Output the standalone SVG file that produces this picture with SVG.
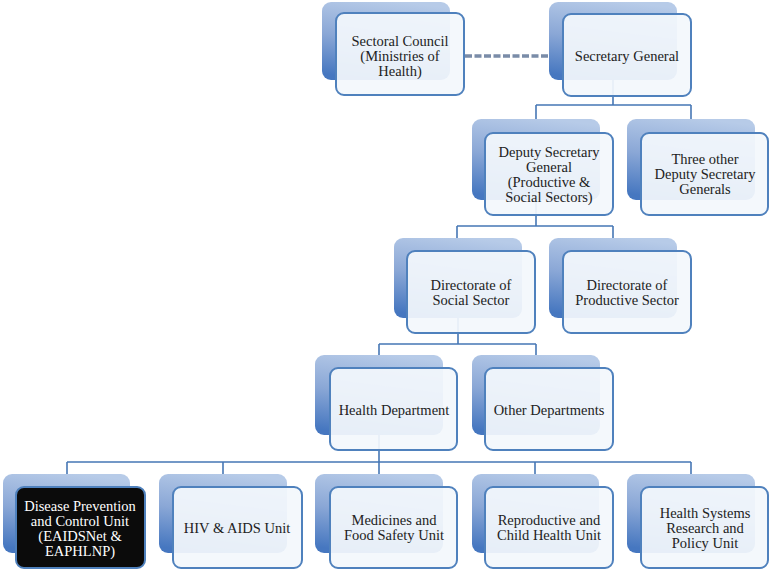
<svg xmlns="http://www.w3.org/2000/svg" width="770" height="572" viewBox="0 0 770 572">
<defs>
<linearGradient id="bg" x1="0.6" y1="0" x2="0.4" y2="1">
<stop offset="0" stop-color="#b7cbe8"/>
<stop offset="0.5" stop-color="#8aa7d6"/>
<stop offset="1" stop-color="#4677c0"/>
</linearGradient>
<style>
.back{fill:url(#bg);}
.front{fill:#f3f7fc;fill-opacity:0.93;stroke:#4f81bd;stroke-width:2;}
.dark{fill:#0b0b0b;fill-opacity:1;}
.t{font-family:"Liberation Serif","Times New Roman",serif;font-size:14.5px;fill:#222222;text-anchor:middle;}
.tw{fill:#ffffff;}
.c{fill:none;stroke:#4677b5;stroke-width:1.6;}
.d{fill:none;stroke:#7a8ca8;stroke-width:3.5;stroke-dasharray:7 2.5;}
</style>
</defs>
<rect width="770" height="572" fill="#ffffff"/>
<g id="connectors">
<path class="d" d="M465,56 H548"/>
<path class="c" d="M613,80 V105 M536,105 H691 M536,105 V119 M691,105 V119"/>
<path class="c" d="M536,200 V226 M457,226 H613 M457,226 V238 M613,226 V238"/>
<path class="c" d="M458,318 V344 M379,344 H536 M379,344 V355 M536,344 V355"/>
<path class="c" d="M379,435 V462 M67,462 H691 M67,462 V474 M223,462 V474 M379,462 V474 M535,462 V474 M691,462 V474"/>
</g>
<g id="sectoral">
<rect class="back" x="322" y="2" width="128" height="78" rx="9"/>
<rect class="front" x="336" y="13" width="128" height="82" rx="8"/>
<text class="t" x="400" y="46">Sectoral Council</text>
<text class="t" x="400" y="61">(Ministries of</text>
<text class="t" x="400" y="76">Health)</text>
</g>
<g id="secgen">
<rect class="back" x="549" y="2" width="128" height="78" rx="9"/>
<rect class="front" x="563" y="14" width="128" height="82" rx="8"/>
<text class="t" x="627" y="61">Secretary General</text>
</g>
<g id="deputy">
<rect class="back" x="472" y="119" width="128" height="81" rx="9"/>
<rect class="front" x="485" y="133" width="128" height="82" rx="8"/>
<text class="t" x="549" y="157">Deputy Secretary</text>
<text class="t" x="549" y="172">General</text>
<text class="t" x="549" y="187">(Productive &amp;</text>
<text class="t" x="549" y="202">Social Sectors)</text>
</g>
<g id="three">
<rect class="back" x="627" y="119" width="128" height="81" rx="9"/>
<rect class="front" x="641" y="133" width="127" height="82" rx="8"/>
<text class="t" x="705" y="164">Three other</text>
<text class="t" x="705" y="179">Deputy Secretary</text>
<text class="t" x="705" y="194">Generals</text>
</g>
<g id="social">
<rect class="back" x="394" y="238" width="128" height="80" rx="9"/>
<rect class="front" x="407" y="251" width="128" height="82" rx="8"/>
<text class="t" x="471" y="290">Directorate of</text>
<text class="t" x="471" y="305">Social Sector</text>
</g>
<g id="productive">
<rect class="back" x="549" y="238" width="128" height="80" rx="9"/>
<rect class="front" x="563" y="251" width="128" height="82" rx="8"/>
<text class="t" x="627" y="290">Directorate of</text>
<text class="t" x="627" y="305">Productive Sector</text>
</g>
<g id="health">
<rect class="back" x="315" y="355" width="128" height="80" rx="9"/>
<rect class="front" x="330" y="368" width="127" height="82" rx="8"/>
<text class="t" x="394" y="415">Health Department</text>
</g>
<g id="other">
<rect class="back" x="472" y="355" width="128" height="80" rx="9"/>
<rect class="front" x="485" y="368" width="128" height="82" rx="8"/>
<text class="t" x="549" y="415">Other Departments</text>
</g>
<g id="disease">
<rect class="back" x="3" y="474" width="127" height="79" rx="9"/>
<rect class="front dark" x="16" y="487" width="129" height="81" rx="8"/>
<text class="t tw" x="80" y="511">Disease Prevention</text>
<text class="t tw" x="80" y="526">and Control Unit</text>
<text class="t tw" x="80" y="541">(EAIDSNet &amp;</text>
<text class="t tw" x="80" y="556">EAPHLNP)</text>
</g>
<g id="hiv">
<rect class="back" x="159" y="474" width="128" height="79" rx="9"/>
<rect class="front" x="173" y="487" width="129" height="81" rx="8"/>
<text class="t" x="237" y="533">HIV &amp; AIDS Unit</text>
</g>
<g id="medicines">
<rect class="back" x="315" y="474" width="128" height="79" rx="9"/>
<rect class="front" x="330" y="487" width="127" height="81" rx="8"/>
<text class="t" x="394" y="525">Medicines and</text>
<text class="t" x="394" y="540">Food Safety Unit</text>
</g>
<g id="repro">
<rect class="back" x="472" y="474" width="127" height="79" rx="9"/>
<rect class="front" x="485" y="487" width="128" height="81" rx="8"/>
<text class="t" x="549" y="525">Reproductive and</text>
<text class="t" x="549" y="540">Child Health Unit</text>
</g>
<g id="hsr">
<rect class="back" x="627" y="474" width="128" height="79" rx="9"/>
<rect class="front" x="641" y="487" width="127" height="81" rx="8"/>
<text class="t" x="705" y="518">Health Systems</text>
<text class="t" x="705" y="533">Research and</text>
<text class="t" x="705" y="548">Policy Unit</text>
</g>
</svg>
